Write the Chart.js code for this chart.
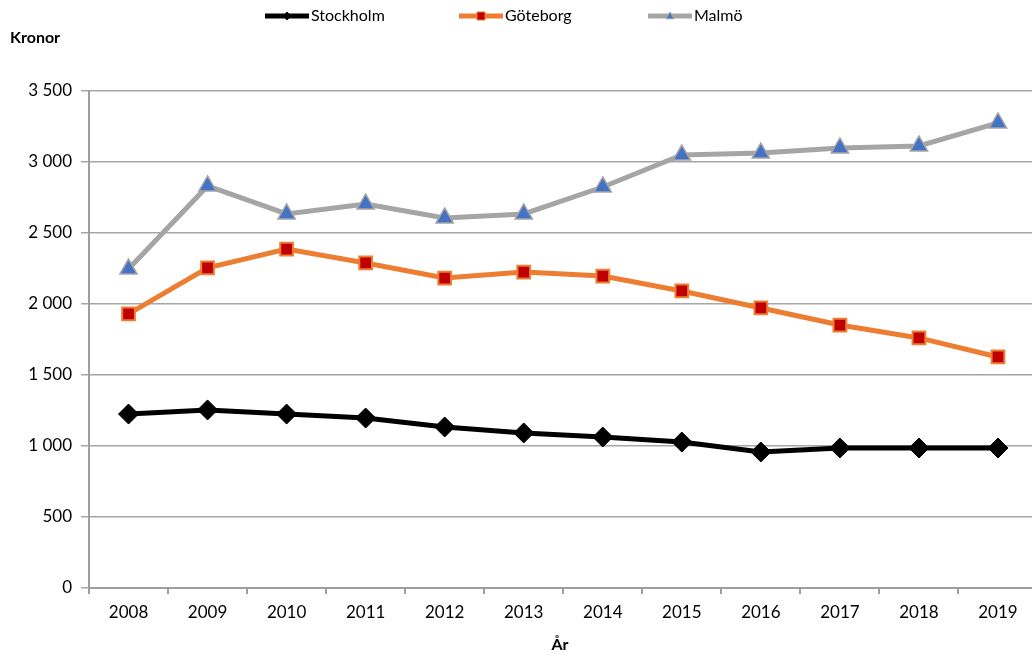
<!DOCTYPE html>
<html>
<head>
<meta charset="utf-8">
<script src="https://cdn.jsdelivr.net/npm/chart.js@4"></script>
<style>
  html, body { margin: 0; padding: 0; background: #fff; overflow: hidden; }
  #wrap { width: 1032px; height: 659px; overflow: hidden; }
</style>
</head>
<body>
<div id="wrap"><canvas id="chart" width="1049" height="659"></canvas></div>
<script>
const years = ["2008", "2009", "2010", "2011", "2012", "2013", "2014", "2015", "2016", "2017", "2018", "2019"];
const stockholm = [1225, 1254, 1225, 1197, 1134, 1092, 1063, 1028, 958, 986, 986, 986];
const goteborg = [1930, 2254, 2387, 2289, 2183, 2225, 2197, 2092, 1972, 1852, 1761, 1627];
const malmo = [2246, 2831, 2634, 2704, 2606, 2634, 2824, 3049, 3063, 3099, 3113, 3275];
const yTicks = [0, 500, 1000, 1500, 2000, 2500, 3000, 3500];

const FONT = "Lato, 'Open Sans', sans-serif";

// legend drawn as Excel does: line with a small marker in the middle
const legendPlugin = {
  id: "excelLegend",
  afterDraw(chart) {
    const c = chart.ctx;
    const items = [
      { x: 265, ds: chart.data.datasets[0] },
      { x: 459, ds: chart.data.datasets[1] },
      { x: 648, ds: chart.data.datasets[2] },
    ];
    const y = 16;
    c.save();
    items.forEach(it => {
      c.strokeStyle = it.ds.borderColor;
      c.lineWidth = 5;
      c.beginPath();
      c.moveTo(it.x, y);
      c.lineTo(it.x + 44, y);
      c.stroke();
      c.fillStyle = it.ds.pointBackgroundColor;
      c.strokeStyle = it.ds.pointBorderColor;
      c.lineWidth = 1;
      c.beginPath();
      drawMini(c, it.ds.pointStyle, it.x + 22, y);
      c.fill();
      c.stroke();
      c.fillStyle = "#000";
      c.font = "16px " + FONT;
      c.textBaseline = "middle";
      c.textAlign = "left";
      c.fillText(it.ds.label, it.x + 46, y);
    });
    // axis titles
    c.font = "bold 16px " + FONT;
    c.textAlign = "left";
    c.fillText("Kronor", 10, 38);
    c.textAlign = "center";
    c.fillText("År", 560, 645);
    c.restore();
  }
};

function drawMini(c, style, x, y) {
  const r = 4;
  if (style === "rectRot") {
    c.moveTo(x - r, y); c.lineTo(x, y - r); c.lineTo(x + r, y); c.lineTo(x, y + r); c.closePath();
  } else if (style === "rect") {
    c.rect(x - r, y - r, 2 * r, 2 * r);
  } else {
    c.moveTo(x, y - r); c.lineTo(x + r, y + r * 0.7); c.lineTo(x - r, y + r * 0.7); c.closePath();
  }
}

new Chart(document.getElementById("chart"), {
  type: "line",
  data: {
    labels: years,
    datasets: [
      {
        label: "Stockholm", data: stockholm,
        borderColor: "#000000", borderWidth: 5,
        pointStyle: "rectRot", pointRadius: 10, pointHoverRadius: 10,
        pointBackgroundColor: "#000000", pointBorderColor: "#000000", pointBorderWidth: 1,
      },
      {
        label: "Göteborg", data: goteborg,
        borderColor: "#ed7d31", borderWidth: 5,
        pointStyle: "rect", pointRadius: 9, pointHoverRadius: 9,
        pointBackgroundColor: "#c00000", pointBorderColor: "#ed7d31", pointBorderWidth: 2,
      },
      {
        label: "Malmö", data: malmo,
        borderColor: "#a5a5a5", borderWidth: 5,
        pointStyle: "triangle", pointRadius: 10, pointHoverRadius: 10,
        pointBackgroundColor: "#4472c4", pointBorderColor: "#a5a5a5", pointBorderWidth: 1.5,
      },
    ]
  },
  options: {
    responsive: false,
    animation: false,
    layout: { padding: { top: 91, right: 0, left: 0, bottom: 0 } },
    plugins: { legend: { display: false }, tooltip: { enabled: false } },
    elements: { line: { tension: 0 } },
    scales: {
      x: {
        offset: true,
        grid: { offset: true, drawOnChartArea: false, color: "#9e9e9e", tickLength: 6, lineWidth: 2 },
        border: { color: "#9e9e9e", width: 2 },
        ticks: { color: "#000", font: { family: FONT, size: 17 }, padding: 8, maxRotation: 0 },
        afterFit(s) { s.height = 71; }
      },
      y: {
        min: 0, max: 3500,
        afterBuildTicks(s) { s.ticks = yTicks.map(v => ({ value: v })); },
        grid: { color: "#a6a6a6", tickLength: 8, lineWidth: 1.5 },
        border: { color: "#9e9e9e", width: 2 },
        ticks: {
          color: "#000", font: { family: FONT, size: 17 }, padding: 9,
          callback: v => String(v).replace(/\B(?=(\d{3})+(?!\d))/g, " ")
        },
        afterFit(s) { s.width = 89; }
      }
    }
  },
  plugins: [legendPlugin]
});
</script>
</body>
</html>
